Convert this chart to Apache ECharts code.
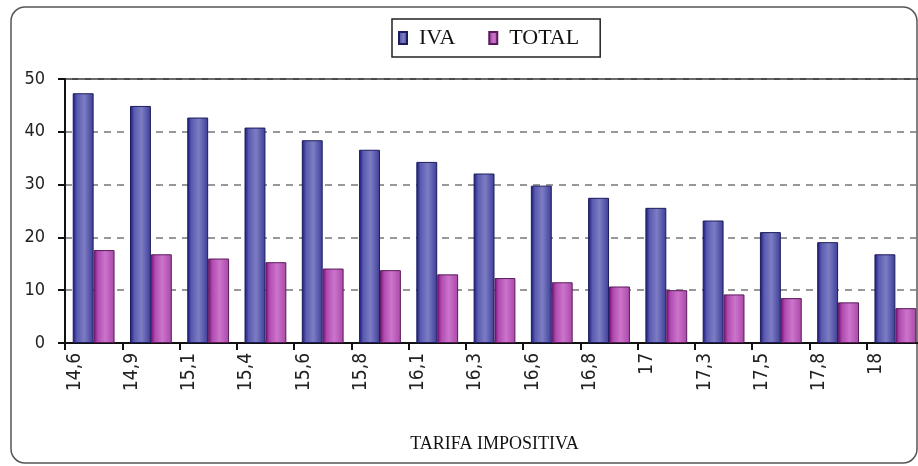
<!DOCTYPE html>
<html>
<head>
<meta charset="utf-8">
<script src="https://cdn.jsdelivr.net/npm/echarts@6/dist/echarts.min.js"></script>
<style>
  html, body { margin: 0; padding: 0; background: #fff; }
  #chart { width: 918px; height: 466px; }
</style>
</head>
<body>
<div id="chart"></div>
<script>
// data
var categories = ["14,6", "14,9", "15,1", "15,4", "15,6", "15,8", "16,1", "16,3", "16,6", "16,8", "17", "17,3", "17,5", "17,8", "18"];
var ivaValues = [47.3, 44.9, 42.7, 40.8, 38.4, 36.6, 34.3, 32.1, 29.8, 27.5, 25.6, 23.2, 21.0, 19.1, 16.8];
var totalValues = [17.6, 16.8, 16.0, 15.3, 14.1, 13.8, 13.0, 12.3, 11.5, 10.7, 10.0, 9.2, 8.5, 7.7, 6.6];
var yTicks = [0, 10, 20, 30, 40, 50];

var sansFont = "'DejaVu Sans Condensed', 'Liberation Sans', sans-serif";

// cylinder-ish gradients like the old excel bars
function barGradient(dark, mid, light, edge) {
  return new echarts.graphic.LinearGradient(0, 0, 1, 0, [
    { offset: 0, color: dark },
    { offset: 0.2, color: mid },
    { offset: 0.55, color: light },
    { offset: 1, color: edge }
  ]);
}

var chart = echarts.init(document.getElementById("chart"), null, { renderer: "canvas" });

var option = {
  backgroundColor: "#fff",
  animation: false,
  graphic: [
    {
      type: "rect",
      shape: { x: 11, y: 7, width: 906, height: 456, r: 14 },
      style: { fill: "none", stroke: "#555", lineWidth: 1.5 },
      z: -1
    }
  ],
  legend: {
    data: ["IVA", "TOTAL"],
    left: 392,
    top: 19,
    orient: "horizontal",
    icon: "rect",
    itemWidth: 8,
    itemHeight: 12,
    itemGap: 33,
    padding: [8, 21, 8, 6],
    borderColor: "#222",
    borderWidth: 1.5,
    borderRadius: 0,
    formatter: function (name) {
      return "{t|" + name + "}";
    },
    textStyle: {
      fontFamily: "Liberation Serif",
      fontSize: 22,
      color: "#111",
      rich: {
        t: {
          fontFamily: "Liberation Serif",
          fontSize: 22,
          color: "#111",
          padding: [0, 0, 0, 7]
        }
      }
    }
  },
  grid: {
    left: 65,
    top: 79,
    right: -6,
    bottom: 123,
    outerBoundsMode: "none",
    containLabel: false,
    show: true,
    borderColor: "#111",
    borderWidth: 1.5,
    backgroundColor: "transparent"
  },
  xAxis: {
    type: "category",
    data: categories,
    name: "TARIFA IMPOSITIVA",
    nameLocation: "middle",
    nameGap: 92,
    nameTextStyle: {
      fontFamily: "Liberation Serif",
      fontSize: 18,
      color: "#111"
    },
    axisLine: { lineStyle: { color: "#111", width: 2 } },
    axisTick: { show: true, alignWithLabel: false, length: 7, lineStyle: { color: "#111", width: 2 } },
    axisLabel: {
      rotate: 90,
      margin: 10,
      interval: 0,
      hideOverlap: false,
      lineHeight: 38,
      // empty second line pushes the rotated text left of the category centre
      formatter: function (v) {
        return v + "\n ";
      },
      fontFamily: sansFont,
      fontSize: 19,
      color: "#222"
    }
  },
  yAxis: {
    type: "value",
    min: yTicks[0],
    max: yTicks[yTicks.length - 1],
    interval: 10,
    axisLine: { show: true, lineStyle: { color: "#111", width: 2 } },
    axisTick: { show: true, length: 7, lineStyle: { color: "#111", width: 2 } },
    axisLabel: {
      margin: 20,
      fontFamily: sansFont,
      fontSize: 18,
      color: "#222"
    },
    splitLine: {
      show: true,
      lineStyle: { color: "#777", type: [7, 6], width: 1.5 }
    }
  },
  series: [
    {
      name: "IVA",
      type: "bar",
      data: ivaValues,
      barGap: "0%",
      barCategoryGap: "27%",
      itemStyle: {
        color: barGradient("#15157a", "#5a5ab0", "#7d7dc4", "#3c3c98"),
        borderColor: "#1c1c5c",
        borderWidth: 1
      }
    },
    {
      name: "TOTAL",
      type: "bar",
      data: totalValues,
      itemStyle: {
        color: barGradient("#7a0878", "#b04cb0", "#cc74cc", "#a848a8"),
        borderColor: "#5a1a5a",
        borderWidth: 1
      }
    }
  ]
};

chart.setOption(option);
</script>
</body>
</html>
